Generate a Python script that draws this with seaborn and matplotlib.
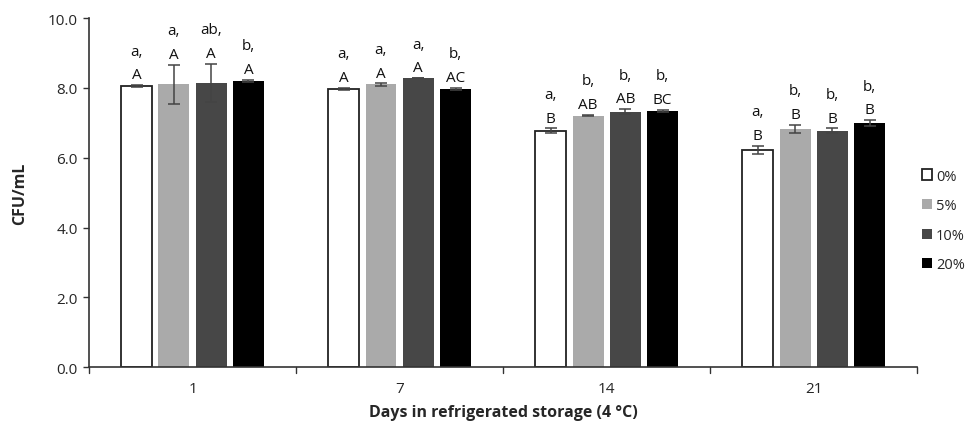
import pandas as pd
import matplotlib.pyplot as plt
import seaborn as sns

# data
days = ['1', '7', '14', '21']
levels = ['0%', '5%', '10%', '20%']
cfu_0 = [8.05, 7.97, 6.77, 6.22]
cfu_5 = [8.10, 8.10, 7.21, 6.82]
cfu_10 = [8.15, 8.28, 7.32, 6.77]
cfu_20 = [8.20, 7.97, 7.35, 7.00]
err_0 = [0.03, 0.03, 0.07, 0.12]
err_5 = [0.57, 0.03, 0.02, 0.12]
err_10 = [0.55, 0.00, 0.07, 0.07]
err_20 = [0.03, 0.03, 0.03, 0.08]
lab_0 = ['a,\nA', 'a,\nA', 'a,\nB', 'a,\nB']
lab_5 = ['a,\nA', 'a,\nA', 'b,\nAB', 'b,\nB']
lab_10 = ['ab,\nA', 'a,\nA', 'b,\nAB', 'b,\nB']
lab_20 = ['b,\nA', 'b,\nAC', 'b,\nBC', 'b,\nB']

values = [cfu_0, cfu_5, cfu_10, cfu_20]
errors = [err_0, err_5, err_10, err_20]
labels = [lab_0, lab_5, lab_10, lab_20]

df = pd.DataFrame({
    'day': days * 4,
    'level': [lv for lv in levels for _ in days],
    'cfu': [v for vals in values for v in vals],
})

sns.set_style('white')
plt.rcParams['font.family'] = ['Open Sans', 'DejaVu Sans']

colors = ['#ffffff', '#aaaaaa', '#474747', '#000000']

fig = plt.figure(figsize=(9.78, 4.27), dpi=100)
ax = fig.add_axes([0.091, 0.138, 0.847, 0.817])

sns.barplot(data=df, x='day', y='cfu', hue='level', order=days, hue_order=levels,
            palette=colors, errorbar=None, width=0.72, gap=0.17, ax=ax, legend=True)

bar_groups = list(ax.containers)

# outline for the white bars, errorbars and letters
for i, cont in enumerate(bar_groups):
    for j, bar in enumerate(cont):
        if i == 0:
            bar.set_edgecolor('#222222')
            bar.set_linewidth(1.3)
        else:
            bar.set_edgecolor('none')
        xc = bar.get_x() + bar.get_width() / 2
        top = bar.get_height()
        e = errors[i][j]
        ax.errorbar(xc, top, yerr=e, color='#444444', capsize=4, lw=1.1, capthick=1.1)
        ax.annotate(labels[i][j], (xc, top + e), xytext=(0, 2), textcoords='offset points',
                    ha='center', va='bottom', fontsize=11, linespacing=1.8, color='#111111')

ax.set_ylim(0, 10)
ax.set_xlim(-0.5, 3.5)
ax.set_yticks([0, 2, 4, 6, 8, 10])
ax.set_yticklabels([f'{t:.1f}' for t in [0, 2, 4, 6, 8, 10]], fontsize=11)
ax.set_xticks([0, 1, 2, 3])
ax.set_xticklabels(days, fontsize=11)
ax.tick_params(axis='x', length=0, pad=10)
ax.tick_params(axis='y', left=True, length=4, width=1, color='#333333', pad=4)
for b in [-0.5, 0.5, 1.5, 2.5, 3.5]:
    ax.plot([b, b], [0, -0.17], color='#333333', lw=1, clip_on=False)

for s in ['top', 'right']:
    ax.spines[s].set_visible(False)
for s in ['left', 'bottom']:
    ax.spines[s].set_color('#333333')
    ax.spines[s].set_linewidth(1.2)

ax.set_ylabel('CFU/mL', fontsize=11.5, fontweight='bold', labelpad=14)
ax.set_xlabel('Days in refrigerated storage (4 °C)', fontsize=11.5, fontweight='bold', labelpad=6)

handles, _ = ax.get_legend_handles_labels()
handles = handles[:4]
handles[0].set_edgecolor('#222222')
handles[0].set_linewidth(1.3)
for h in handles[1:]:
    h.set_edgecolor('none')
ax.legend(handles, levels, loc='center left', bbox_to_anchor=(0.99, 0.42), frameon=False,
          fontsize=10.5, handlelength=0.7, handleheight=0.7, handletextpad=0.25, labelspacing=1.0)

fig.savefig('out.png', dpi=100)
